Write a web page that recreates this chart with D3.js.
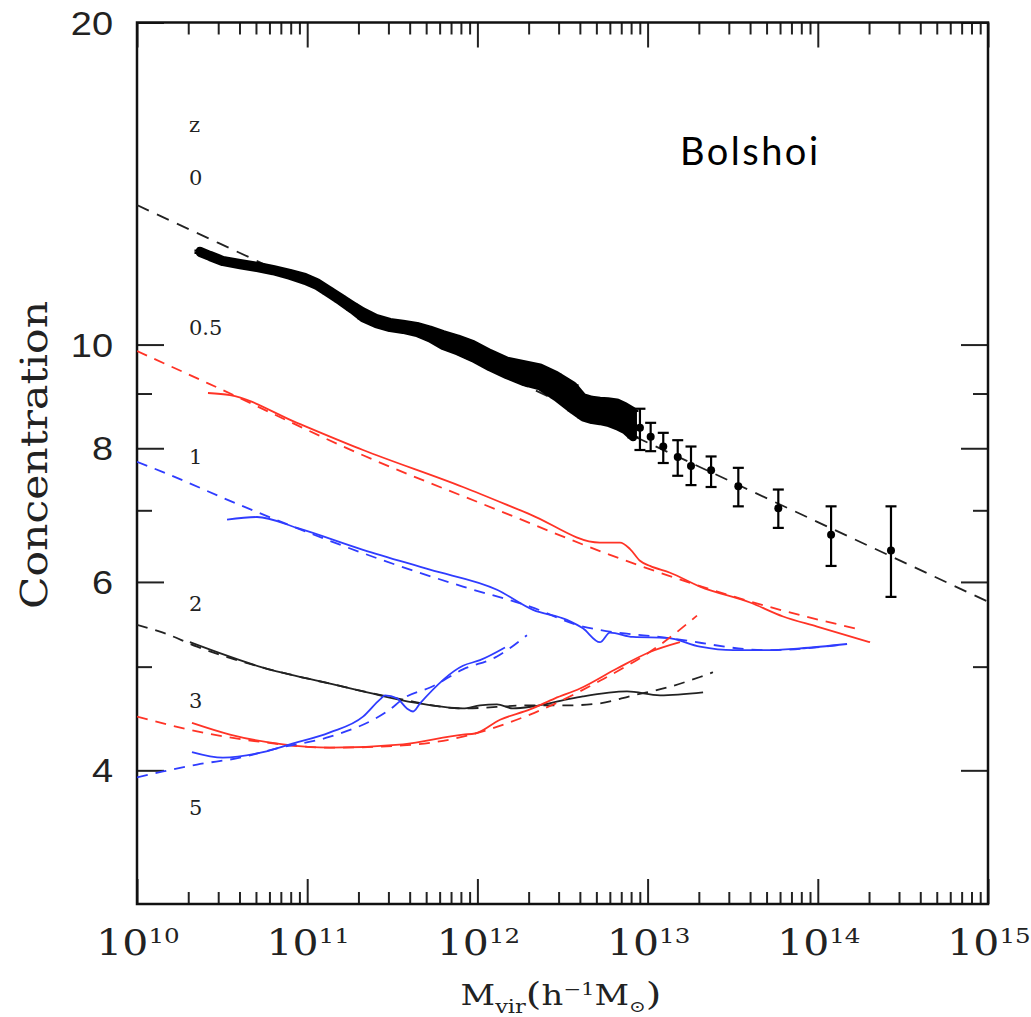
<!DOCTYPE html>
<html>
<head>
<meta charset="utf-8">
<script src="https://cdn.jsdelivr.net/npm/d3@7"></script>
<style>
body { margin: 0; background: #fff; }
svg { display: block; }
</style>
</head>
<body>
<script>
// z = 0 : dense bins (log10 mass, concentration, error)
var binLogM = [10.370, 10.429, 10.505, 10.605, 10.705, 10.799, 10.899, 10.987, 11.058, 11.122,
               11.193, 11.263, 11.328, 11.404, 11.486, 11.563, 11.645, 11.722, 11.798, 11.886,
               11.974, 12.074, 12.174, 12.268, 12.368, 12.462, 12.562, 12.620, 12.673, 12.720,
               12.767, 12.820, 12.867, 12.914];
var binConc = [12.21, 12.10, 11.97, 11.89, 11.82, 11.74, 11.63, 11.52, 11.39, 11.22,
               11.03, 10.84, 10.66, 10.52, 10.43, 10.39, 10.33, 10.23, 10.10, 9.99,
               9.86, 9.67, 9.51, 9.41, 9.33, 9.15, 8.92, 8.74, 8.69, 8.67,
               8.65, 8.61, 8.54, 8.43];
var binErr = [0.03, 0.03, 0.03, 0.03, 0.03, 0.03, 0.04, 0.05, 0.05, 0.05,
              0.05, 0.06, 0.08, 0.07, 0.07, 0.07, 0.08, 0.10, 0.13, 0.14,
              0.15, 0.15, 0.15, 0.18, 0.19, 0.22, 0.24, 0.19, 0.19, 0.19,
              0.20, 0.22, 0.22, 0.24];

// z = 0 : high mass points with error bars
var ptLogM = [12.955, 13.018, 13.092, 13.177, 13.255, 13.373, 13.533, 13.768, 14.078, 14.430];
var ptConc = [8.36, 8.20, 8.03, 7.85, 7.70, 7.63, 7.37, 7.03, 6.64, 6.42];
var ptLo   = [7.97, 7.95, 7.75, 7.54, 7.39, 7.36, 7.06, 6.74, 6.21, 5.81];
var ptHi   = [8.71, 8.45, 8.27, 8.14, 8.03, 7.86, 7.67, 7.32, 7.06, 7.06];

// fits (dashed) and simulation curves (solid)
var z0FitM  = [10.0, 13.543, 15.0];
var z0FitC  = [13.50, 7.38, 5.75];

var z05FitM = [10.0, 10.411, 11.328, 12.133, 12.779, 13.778, 14.260];
var z05FitC = [9.86, 9.21, 7.88, 6.99, 6.36, 5.65, 5.41];
var z05SimM = [10.417, 10.546, 10.940, 11.328, 11.915, 12.309, 12.720, 12.838, 12.897,
               12.955, 13.014, 13.132, 13.308, 13.602, 13.796, 13.996, 14.307];
var z05SimC = [9.01, 8.97, 8.45, 7.97, 7.36, 6.94, 6.53, 6.53, 6.44,
               6.28, 6.21, 6.12, 5.94, 5.74, 5.57, 5.45, 5.27];

var z1FitM = [10.0, 10.153, 10.605, 11.528, 11.915, 12.309, 12.620, 12.720, 13.114, 13.702, 14.130];
var z1FitC = [7.77, 7.60, 7.08, 6.22, 5.94, 5.69, 5.45, 5.41, 5.32, 5.18, 5.24];
var z1SimM = [10.529, 10.705, 10.940, 11.328, 11.721, 12.115, 12.327, 12.526, 12.620,
              12.720, 12.779, 12.914, 13.114, 13.308, 13.502, 13.702, 13.895, 14.172];
var z1SimC = [6.86, 6.90, 6.74, 6.43, 6.16, 5.90, 5.65, 5.53, 5.43,
              5.27, 5.38, 5.33, 5.32, 5.22, 5.18, 5.18, 5.20, 5.25];

var z2FitM = [10.0, 10.153, 10.353, 10.740, 11.134, 11.528, 11.915, 12.309, 12.526, 12.720,
              12.914, 13.114, 13.308, 13.384];
var z2FitC = [5.47, 5.38, 5.22, 4.99, 4.82, 4.67, 4.57, 4.60, 4.60, 4.62,
              4.70, 4.78, 4.89, 4.94];
var z2SimM = [10.311, 10.740, 11.134, 11.428, 11.622, 11.915, 12.015, 12.115, 12.209, 12.327,
              12.526, 12.620, 12.879, 13.073, 13.326];
var z2SimC = [5.27, 4.99, 4.82, 4.70, 4.63, 4.57, 4.60, 4.61, 4.57, 4.59,
              4.66, 4.69, 4.74, 4.70, 4.73];

var z3FitM = [10.0, 10.353, 10.740, 11.134, 11.563, 11.915, 12.309, 12.720, 13.073, 13.290];
var z3FitC = [4.49, 4.35, 4.25, 4.20, 4.22, 4.30, 4.51, 4.85, 5.24, 5.58];
var z3SimM = [10.323, 10.546, 10.858, 11.134, 11.563, 11.915, 11.986, 12.133, 12.309,
              12.456, 12.603, 12.820, 13.014, 13.190];
var z3SimC = [4.43, 4.32, 4.23, 4.20, 4.23, 4.32, 4.33, 4.46, 4.56,
              4.67, 4.77, 4.98, 5.16, 5.27];

var z5FitM = [10.0, 10.153, 10.353, 10.605, 10.840, 11.134, 11.469, 11.586, 11.722, 11.915, 12.115, 12.291];
var z5FitC = [3.94, 3.99, 4.05, 4.11, 4.20, 4.30, 4.54, 4.69, 4.78, 4.97, 5.11, 5.35];
var z5SimM = [10.323, 10.505, 10.740, 10.899, 11.134, 11.328, 11.428, 11.457, 11.528, 11.586,
              11.622, 11.663, 11.915, 12.015, 12.162];
var z5SimC = [4.16, 4.11, 4.16, 4.23, 4.34, 4.49, 4.66, 4.70, 4.67, 4.57,
              4.54, 4.62, 5.01, 5.07, 5.21];

var zLabels = ["z", "0", "0.5", "1", "2", "3", "5"];
var yMajor = [4, 6, 8, 10, 20];
var yMinor = [5, 7, 9];
var xDecades = [10, 11, 12, 13, 14, 15];

var width = 1031, height = 1017;
var mLeft = 137, mRight = 988, mTop = 22.5, mBottom = 904;
var red = "#ff3326", blue = "#2f3cff";

var svg = d3.select("body").append("svg")
            .attr("width", width)
            .attr("height", height);

var x = d3.scaleLog().domain([1e10, 1e15]).range([mLeft, mRight]);
var y = d3.scaleLog().domain([3, 20]).range([mBottom, mTop]);

var pts = function(m, c) {
    return m.map(function(d, i) { return [Math.pow(10, d), c[i]]; });
};

// ticks
var xMinor = [];
xDecades.slice(0, -1).forEach(function(e) {
    for (var k = 2; k < 10; k++) xMinor.push(k * Math.pow(10, e));
});
var xMajor = xDecades.map(function(e) { return Math.pow(10, e); });

var addAxis = function(axis, tx, ty) {
    var g = svg.append("g")
       .attr("transform", "translate(" + tx + "," + ty + ")")
       .call(axis.tickFormat(""));
    g.select(".domain").remove();
    g.selectAll(".tick line").attr("stroke", "#222").attr("stroke-width", 2);
};
addAxis(d3.axisBottom(x).tickValues(xMajor).tickSize(-25), 0, mBottom);
addAxis(d3.axisBottom(x).tickValues(xMinor).tickSize(-12), 0, mBottom);
addAxis(d3.axisTop(x).tickValues(xMajor).tickSize(-25), 0, mTop);
addAxis(d3.axisTop(x).tickValues(xMinor).tickSize(-12), 0, mTop);
addAxis(d3.axisLeft(y).tickValues(yMajor).tickSize(-27), mLeft, 0);
addAxis(d3.axisLeft(y).tickValues(yMinor).tickSize(-15), mLeft, 0);
addAxis(d3.axisRight(y).tickValues(yMajor).tickSize(-27), mRight, 0);
addAxis(d3.axisRight(y).tickValues(yMinor).tickSize(-15), mRight, 0);

svg.append("rect")
   .attr("x", mLeft).attr("y", mTop)
   .attr("width", mRight - mLeft).attr("height", mBottom - mTop)
   .attr("fill", "none").attr("stroke", "#111").attr("stroke-width", 2.5);

// y tick labels
svg.selectAll(".ylab")
   .data(yMajor)
   .enter()
   .append("text")
   .attr("transform", function(d) { return "translate(113," + (y(d) + 1) + ") scale(1.15,1)"; })
   .attr("text-anchor", "end")
   .attr("dominant-baseline", "central")
   .style("font-family", "Liberation Sans, Arial, sans-serif")
   .style("font-size", "33px")
   .attr("fill", "#222")
   .text(function(d) { return d; });

// x tick labels 10^n
var xl = svg.selectAll(".xlab")
   .data(xDecades)
   .enter()
   .append("text")
   .attr("transform", function(d) { return "translate(" + (x(Math.pow(10, d)) + 1) + ",955) scale(1.17,1)"; })
   .attr("text-anchor", "middle")
   .style("font-family", "DejaVu Serif, serif")
   .attr("fill", "#222");
xl.append("tspan").style("font-size", "35px").text("10");
xl.append("tspan").style("font-size", "21px").attr("dy", -12).text(function(d) { return d; });

// axis titles
var xt = svg.append("text")
   .attr("transform", "translate(561,1005) scale(1.25,1)")
   .attr("text-anchor", "middle")
   .style("font-family", "DejaVu Serif, serif")
   .style("font-size", "27px")
   .attr("fill", "#222");
xt.append("tspan").text("M");
xt.append("tspan").style("font-size", "18px").attr("dy", 8).text("vir");
xt.append("tspan").style("font-size", "32px").attr("dy", -8).text("(");
xt.append("tspan").text("h");
xt.append("tspan").style("font-size", "17px").attr("dy", -10).text("\u22121");
xt.append("tspan").attr("dy", 10).text("M");
xt.append("tspan").style("font-size", "16px").attr("dy", 7).text("\u2299");
xt.append("tspan").style("font-size", "32px").attr("dy", -7).text(")");

svg.append("text")
   .attr("transform", "translate(47,455) rotate(-90)")
   .attr("text-anchor", "middle")
   .style("font-family", "DejaVu Serif, serif")
   .style("font-size", "37px")
   .attr("textLength", 308)
   .attr("lengthAdjust", "spacingAndGlyphs")
   .attr("fill", "#222")
   .text("Concentration");

svg.append("text")
   .attr("x", 680).attr("y", 165)
   .style("font-family", "Lato, Open Sans, sans-serif")
   .style("font-size", "38px")
   .attr("textLength", 138)
   .attr("fill", "#000")
   .text("Bolshoi");

// redshift labels
var zY = [125, 178, 328, 457, 604, 701, 808];
svg.selectAll(".zlab")
   .data(zLabels)
   .enter()
   .append("text")
   .attr("x", 189)
   .attr("y", function(d, i) { return zY[i]; })
   .attr("dominant-baseline", "central")
   .style("font-family", "DejaVu Serif, serif")
   .style("font-size", "21px")
   .attr("fill", "#222")
   .text(function(d) { return d; });

// curves
var line = d3.line()
             .x(function(d) { return x(d[0]); })
             .y(function(d) { return y(d[1]); })
             .curve(d3.curveMonotoneX);

var series = [
    {m: z0FitM,  c: z0FitC,  color: "#222", dash: "13,9"},
    {m: z05FitM, c: z05FitC, color: red,    dash: "11,8"},
    {m: z05SimM, c: z05SimC, color: red,    dash: null},
    {m: z1FitM,  c: z1FitC,  color: blue,   dash: "11,8"},
    {m: z1SimM,  c: z1SimC,  color: blue,   dash: null},
    {m: z2FitM,  c: z2FitC,  color: "#222", dash: "11,8"},
    {m: z2SimM,  c: z2SimC,  color: "#222", dash: null},
    {m: z3FitM,  c: z3FitC,  color: red,    dash: "11,8"},
    {m: z3SimM,  c: z3SimC,  color: red,    dash: null},
    {m: z5FitM,  c: z5FitC,  color: blue,   dash: "11,8"},
    {m: z5SimM,  c: z5SimC,  color: blue,   dash: null}
];

svg.append("defs").append("clipPath").attr("id", "plot")
   .append("rect").attr("x", mLeft).attr("y", mTop)
   .attr("width", mRight - mLeft).attr("height", mBottom - mTop);

var plot = svg.append("g").attr("clip-path", "url(#plot)");

plot.selectAll(".curve")
   .data(series)
   .enter()
   .append("path")
   .attr("d", function(s) { return line(pts(s.m, s.c)); })
   .attr("fill", "none")
   .attr("stroke", function(s) { return s.color; })
   .attr("stroke-width", 1.8)
   .attr("stroke-dasharray", function(s) { return s.dash; });

// z = 0 band of dense, overlapping bins
var bins = binLogM.map(function(d, i) {
    return {m: Math.pow(10, d), c: binConc[i], lo: binConc[i] - binErr[i], hi: binConc[i] + binErr[i]};
});
plot.append("path")
   .attr("d", d3.area()
                .x(function(d) { return x(d.m); })
                .y0(function(d) { return y(d.lo); })
                .y1(function(d) { return y(d.hi); })(bins))
   .attr("fill", "#000")
   .attr("stroke", "#000")
   .attr("stroke-width", 8)
   .attr("stroke-linejoin", "round");

var points = ptLogM.map(function(d, i) {
    return {m: Math.pow(10, d), c: ptConc[i], lo: ptLo[i], hi: ptHi[i]};
});
var all = bins.concat(points);

var eb = plot.selectAll(".err")
   .data(all)
   .enter()
   .append("g")
   .attr("stroke", "#000")
   .attr("stroke-width", 2.2);
eb.append("line")
   .attr("x1", function(d) { return x(d.m); })
   .attr("x2", function(d) { return x(d.m); })
   .attr("y1", function(d) { return y(d.lo); })
   .attr("y2", function(d) { return y(d.hi); });
eb.append("line")
   .attr("x1", function(d) { return x(d.m) - 5.5; })
   .attr("x2", function(d) { return x(d.m) + 5.5; })
   .attr("y1", function(d) { return y(d.lo); })
   .attr("y2", function(d) { return y(d.lo); });
eb.append("line")
   .attr("x1", function(d) { return x(d.m) - 5.5; })
   .attr("x2", function(d) { return x(d.m) + 5.5; })
   .attr("y1", function(d) { return y(d.hi); })
   .attr("y2", function(d) { return y(d.hi); });

plot.selectAll(".dot")
   .data(all)
   .enter()
   .append("circle")
   .attr("cx", function(d) { return x(d.m); })
   .attr("cy", function(d) { return y(d.c); })
   .attr("r", 4)
   .attr("fill", "#000");
</script>
</body>
</html>
